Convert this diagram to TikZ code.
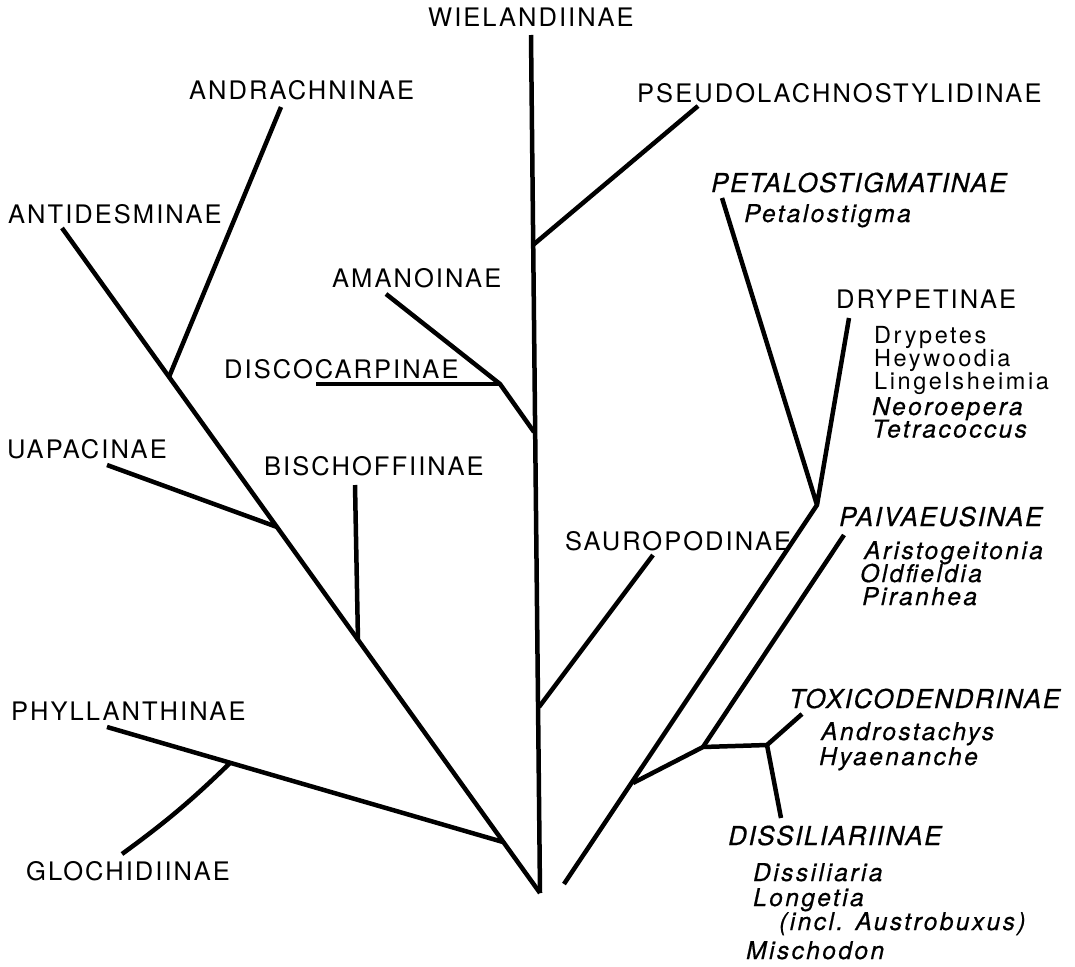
\documentclass[tikz,border=0pt]{standalone}
\usepackage{fontspec}
\newfontfamily\capfont{TeX Gyre Heros}[LetterSpace=8]
\newfontfamily\genfont{TeX Gyre Heros}[LetterSpace=11]
\newfontfamily\itcapfont{TeX Gyre Heros Italic}[LetterSpace=6, FakeBold=0.6]
\newfontfamily\itgenfont{TeX Gyre Heros Italic}[LetterSpace=10, FakeBold=0.6]
\tikzset{
  branch/.style={line width=4.5pt, line join=round},
  caplab/.style={anchor=base west, inner sep=0pt, font=\capfont\fontsize{25.5}{25.5}\selectfont},
  itcaplab/.style={anchor=base west, inner sep=0pt, font=\itcapfont\fontsize{26}{26}\selectfont},
  genlab/.style={anchor=base west, inner sep=0pt, font=\genfont\fontsize{23.5}{23.5}\selectfont},
  itgenlab/.style={anchor=base west, inner sep=0pt, font=\itgenfont\fontsize{24.5}{24.5}\selectfont}
}
\begin{document}
\begin{tikzpicture}[x=1pt, y=-1pt]
\useasboundingbox (0,0) rectangle (1075,966);
% ---------- labels ----------
\node[caplab] (wiel) at (428,27) {WIELANDIINAE};
\node[caplab] (andr) at (189,99) {ANDRACHNINAE};
\node[caplab] (pseu) at (637,102) {PSEUDOLACHNOSTYLIDINAE};
\node[caplab] (anti) at (8,223) {ANTIDESMINAE};
\node[itcaplab] (peta) at (711,192) {PETALOSTIGMATINAE};
\node[itgenlab] (petag) at (744,222) {Petalostigma};
\node[caplab] (aman) at (332,287) {AMANOINAE};
\node[caplab] (dryp) at (836,308) {DRYPETINAE};
\node[genlab] (dryg1) at (874,343) {Drypetes};
\node[genlab] (dryg2) at (874,366) {Heywoodia};
\node[genlab] (dryg3) at (874,389.5) {Lingelsheimia};
\node[itgenlab] (dryg4) at (872,415) {Neoroepera};
\node[itgenlab] (dryg5) at (872,437.5) {Tetracoccus};
\node[caplab] (disc) at (224,378) {DISCOCARPINAE};
\node[caplab] (uapa) at (7,458) {UAPACINAE};
\node[caplab] (bisc) at (264,475) {BISCHOFFIINAE};
\node[itcaplab] (paiv) at (839,526) {PAIVAEUSINAE};
\node[itgenlab] (paig1) at (864,559) {Aristogeitonia};
\node[itgenlab] (paig2) at (860,582) {Oldfieldia};
\node[itgenlab] (paig3) at (862,605) {Piranhea};
\node[caplab] (saur) at (565,550) {SAUROPODINAE};
\node[caplab] (phyl) at (11,720) {PHYLLANTHINAE};
\node[itcaplab] (toxi) at (789,708) {TOXICODENDRINAE};
\node[itgenlab] (toxg1) at (821,740) {Androstachys};
\node[itgenlab] (toxg2) at (819,765) {Hyaenanche};
\node[itcaplab] (diss) at (728,845) {DISSILIARIINAE};
\node[itgenlab] (disg1) at (753,881) {Dissiliaria};
\node[itgenlab] (disg2) at (753,906) {Longetia};
\node[itgenlab] (disg3) at (779,930) {(incl. Austrobuxus)};
\node[itgenlab] (disg4) at (746,959) {Mischodon};
\node[caplab] (gloc) at (26,880) {GLOCHIDIINAE};
% ---------- tree points ----------
\coordinate (root) at (540,893);
\coordinate (wtop) at (531,35);
\coordinate (jpseudo) at (533,245);
\coordinate (tpseudo) at (698,106);
\coordinate (jaman) at (534,432);
\coordinate (kaman) at (500,384);
\coordinate (taman) at (386,294);
\coordinate (tdisco) at (316,384);
\coordinate (jsauro) at (539,707);
\coordinate (tsauro) at (653,555);
\coordinate (tantid) at (62,228);
\coordinate (jandr) at (169,377);
\coordinate (tandr) at (281,107);
\coordinate (juap) at (277,527);
\coordinate (tuap) at (107,465);
\coordinate (jbisch) at (358,641);
\coordinate (tbisch) at (355,485);
\coordinate (jphyl) at (503,842);
\coordinate (tphyl) at (107,727);
\coordinate (jgloch) at (230,763);
\coordinate (tgloch) at (122,854);
\coordinate (rbottom) at (564,884);
\coordinate (rjd) at (817,505);
\coordinate (tpetal) at (722,198);
\coordinate (tdryp) at (849,318);
\coordinate (jtoxa) at (633,783);
\coordinate (jtoxb) at (703,747);
\coordinate (tpaiv) at (844,535);
\coordinate (jtoxc) at (767,745);
\coordinate (ttox) at (802,714);
\coordinate (tdiss) at (781,818);
% ---------- branches ----------
\draw[branch] (wtop) -- (root);
\draw[branch] (jpseudo) -- (tpseudo);
\draw[branch] (taman) -- (kaman) -- (jaman);
\draw[branch] (tdisco) -- (kaman);
\draw[branch] (jsauro) -- (tsauro);
\draw[branch] (tantid) -- (root);
\draw[branch] (jandr) -- (tandr);
\draw[branch] (juap) -- (tuap);
\draw[branch] (jbisch) -- (tbisch);
\draw[branch] (jphyl) -- (tphyl);
\draw[branch] (jgloch) to[bend left=4] (tgloch);
\draw[branch] (rbottom) -- (rjd);
\draw[branch] (tpetal) -- (rjd) -- (tdryp);
\draw[branch] (jtoxa) -- (jtoxb) -- (jtoxc) -- (ttox);
\draw[branch] (jtoxb) -- (tpaiv);
\draw[branch] (jtoxc) -- (tdiss);
\end{tikzpicture}
\end{document}
